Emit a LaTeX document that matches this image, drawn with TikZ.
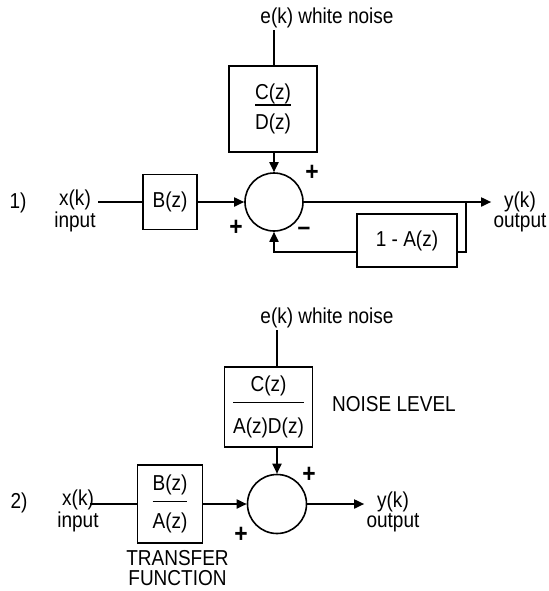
\documentclass[tikz,border=0pt]{standalone}
\usepackage{fontspec}
\setmainfont{Liberation Sans}[FakeStretch=0.88]
\usepackage{tikz}
\usetikzlibrary{arrows.meta,positioning,calc}
\setlength{\arrayrulewidth}{0.9pt}
\newcommand{\ratio}[4]{{\renewcommand{\arraystretch}{0}%
  \begin{tabular}{@{}c@{}}\rule[-#3]{0pt}{#3}#1\\\hline\rule{0pt}{#4}#2\end{tabular}}}
\tikzset{
  block box/.style  = {draw, line width=0.8pt, inner sep=2pt, align=center},
  sum node/.style   = {draw, circle, line width=0.8pt, minimum size=29pt,
                       inner sep=0pt},
  sig label/.style  = {inner sep=1pt, align=center},
  sign label/.style = {inner sep=0pt, font=\fontsize{13}{13}\selectfont\bfseries},
  arr/.style        = {-{Triangle[length=5pt,width=4.5pt]}, line width=0.9pt},
  wire/.style       = {line width=0.9pt},
}
\begin{document}
\begin{tikzpicture}[x=0.5pt, y=-0.5pt, font=\fontsize{10.8}{10}\selectfont]
  \useasboundingbox (0,0) rectangle (549,591);
  % 1)
  \node[sig label] (lbl1) at (18,203) {1)};
  \node[sig label] (in1)  at (75,211) {x(k)\\input};
  \node[block box, minimum width=27pt, minimum height=27.5pt] (b1) at (170,202) {B(z)};
  \node[sum node] (sum1) at (274,202) {};
  \node[block box, minimum width=44pt, minimum height=43pt] (cd1) at (273,109)
       {\ratio{C(z)}{D(z)}{2pt}{12pt}};
  \node[sig label] (e1) at (327,18) {e(k) white noise};
  \node[block box, minimum width=50pt, minimum height=26.5pt] (a1) at (407,240.5) {1 - A(z)};
  \node[sig label] (out1) at (520,212) {y(k)\\output};
  \coordinate (br1) at (466,202);
  \coordinate (fb1) at (466,252);

  \draw[wire] (in1.east |- b1) -- (b1);
  \draw[arr] (b1) -- (sum1);
  \draw[wire] (e1.south -| sum1) -- (cd1.north -| sum1);
  \draw[arr] (cd1.south -| sum1) -- (sum1);
  \draw[arr] (sum1) -- (out1.west |- sum1);
  \draw[wire] (br1) -- (fb1) -- (fb1 -| a1.east);
  \draw[arr] (fb1 -| a1.west) -| (sum1.south);

  \node[sign label] (p1a) at (312,173) {+};
  \node[sign label] (p1b) at (236,228) {+};
  \node[sign label] (m1)  at (304,231) {–};

  % 2)
  \node[sig label] (lbl2) at (19,503) {2)};
  \node[sig label] (in2)  at (78,511) {x(k)\\input};
  \node[block box, minimum width=32.5pt, minimum height=39pt] (b2) at (170,504)
       {\ratio{B(z)}{A(z)}{5pt}{13pt}};
  \node[sum node, minimum size=29.5pt] (sum2) at (277,504) {};
  \node[block box, minimum width=44pt, minimum height=40pt] (cd2) at (268.5,407)
       {\ratio{C(z)}{A(z)D(z)}{5pt}{15pt}};
  \node[sig label] (e2) at (327,318) {e(k) white noise};
  \node[sig label] (nl) at (394,404) {NOISE LEVEL};
  \node[sig label, font=\fontsize{10.8}{9.6}\selectfont] (tf) at (177.5,568) {TRANSFER\\FUNCTION};
  \node[sig label] (out2) at (393,512) {y(k)\\output};

  \draw[wire, shorten <=-5.5pt] (in2.east |- b2) -- (b2);
  \draw[arr] (b2) -- (sum2);
  \draw[wire] (e2.south -| sum2) -- (cd2.north -| sum2);
  \draw[arr] (cd2.south -| sum2) -- (sum2);
  \draw[arr] (sum2) -- (out2.west |- sum2);

  \node[sign label] (p2a) at (309,475) {+};
  \node[sign label] (p2b) at (241,535) {+};
\end{tikzpicture}
\end{document}
